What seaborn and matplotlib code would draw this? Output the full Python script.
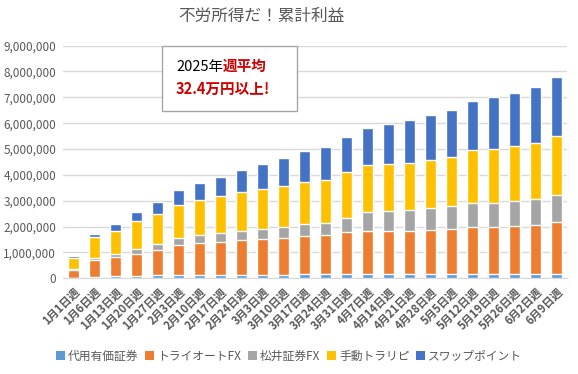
import numpy as np
import matplotlib.pyplot as plt
import seaborn as sns
from matplotlib.patches import Patch, Rectangle
from matplotlib.ticker import FuncFormatter


weeks = [
    "1月1日週", "1月6日週", "1月13日週", "1月20日週", "1月27日週", "2月3日週",
    "2月10日週", "2月17日週", "2月24日週", "3月3日週", "3月10日週", "3月17日週",
    "3月24日週", "3月31日週", "4月7日週", "4月14日週", "4月21日週", "4月28日週",
    "5月5日週", "5月12日週", "5月19日週", "5月26日週", "6月2日週", "6月9日週",
]

# 累計利益（円）
daiyou = [10000, 65000, 78000, 90000, 129000, 129000, 129000, 129000, 129000, 129000,
          129000, 168000, 180000, 180000, 180000, 180000, 180000, 180000, 180000, 180000,
          180000, 180000, 180000, 180000]
triauto = [313000, 634000, 737000, 854000, 958000, 1152000, 1239000, 1277000, 1355000,
           1394000, 1432000, 1471000, 1505000, 1621000, 1646000, 1646000, 1646000, 1698000,
           1736000, 1814000, 1814000, 1839000, 1891000, 2006000]
matsui = [39000, 90000, 116000, 181000, 233000, 271000, 309000, 349000, 348000, 387000,
          426000, 464000, 450000, 527000, 733000, 772000, 811000, 849000, 875000, 900000,
          900000, 965000, 990000, 1029000]
trarep = [427000, 802000, 906000, 1100000, 1177000, 1294000, 1355000, 1432000, 1510000,
          1548000, 1587000, 1626000, 1659000, 1775000, 1814000, 1814000, 1813000, 1852000,
          1891000, 2071000, 2096000, 2122000, 2174000, 2277000]
swap = [65000, 117000, 259000, 349000, 465000, 569000, 658000, 736000, 852000, 968000,
        1084000, 1200000, 1274000, 1350000, 1428000, 1556000, 1659000, 1723000, 1813000,
        1877000, 2007000, 2045000, 2148000, 2276000]

series_names = ["代用有価証券", "トライオートFX", "松井証券FX", "手動トラリピ", "スワップポイント"]
series_colors = ["#5B9BD5", "#ED7D31", "#A5A5A5", "#FFC000", "#4472C4"]

sns.set_style("white")
plt.rcParams["font.family"] = ["Noto Sans CJK JP", "DejaVu Sans"]

TEXT_GRAY = "#595959"
RED = "#D00000"

fig = plt.figure(figsize=(5.78, 3.74), dpi=100)
ax = fig.add_axes([0.109, 0.256, 0.872, 0.622])

# stack by drawing cumulative heights, tallest first
stack = np.array([daiyou, triauto, matsui, trarep, swap], dtype=float)
cum = stack.cumsum(axis=0)
for i in range(len(series_names) - 1, -1, -1):
    sns.barplot(x=weeks, y=cum[i], color=series_colors[i], saturation=1,
                width=0.48, ax=ax, zorder=3)

ax.set_ylim(0, 9000000)
ax.set_yticks(np.arange(0, 9000001, 1000000))
ax.yaxis.set_major_formatter(FuncFormatter(lambda v, p: f"{v:,.0f}"))
ax.set_xlim(-0.5, len(weeks) - 0.5)
ax.grid(axis="y", color="#D9D9D9", linewidth=1, zorder=0)
ax.set_axisbelow(True)
for s in ["top", "right", "left"]:
    ax.spines[s].set_visible(False)
ax.spines["bottom"].set_color("#D9D9D9")
ax.set_xlabel("")
ax.set_ylabel("")
ax.tick_params(axis="y", length=0, pad=5, labelsize=8.5, labelcolor=TEXT_GRAY)
ax.tick_params(axis="x", length=0, pad=5, labelsize=8, labelcolor=TEXT_GRAY)
for lab in ax.get_xticklabels():
    lab.set_rotation(45)
    lab.set_ha("right")
    lab.set_va("top")
    lab.set_rotation_mode("anchor")
    lab.set_fontweight("bold")

fig.text(0.452, 0.955, "不労所得だ！累計利益", ha="center", va="center",
         fontsize=12, color=TEXT_GRAY)

# callout box (drawn inside the axes so the text sits on top of it)
ax.add_patch(Rectangle((161.7 / 578, 1 - 111 / 374), 135.3 / 578, 65.3 / 374,
                       transform=fig.transFigure, facecolor="white",
                       edgecolor="#A6A6A6", linewidth=1, zorder=5, clip_on=False))
t1 = ax.text(176 / 578, 1 - 67 / 374, "2025年", ha="left", va="center",
             transform=fig.transFigure, fontsize=10.5, color="black", zorder=6)
ax.annotate("週平均", xy=(1, 0), xycoords=t1, ha="left", va="bottom",
            fontsize=10.5, color=RED, fontweight="bold", zorder=6,
            annotation_clip=False)
ax.text(176 / 578, 1 - 88.5 / 374, "32.4万円以上!", ha="left", va="center",
        transform=fig.transFigure, fontsize=10.5, color=RED, fontweight="bold",
        zorder=6)

handles = [Patch(facecolor=c, edgecolor="none") for c in series_colors]
fig.legend(handles, series_names, loc="center", bbox_to_anchor=(0.5, 1 - 356 / 374),
           ncol=5, frameon=False, fontsize=8.5, labelcolor=TEXT_GRAY,
           handlelength=0.75, handleheight=0.75, handletextpad=0.25,
           columnspacing=0.6)

fig.savefig("out.png", dpi=100)
